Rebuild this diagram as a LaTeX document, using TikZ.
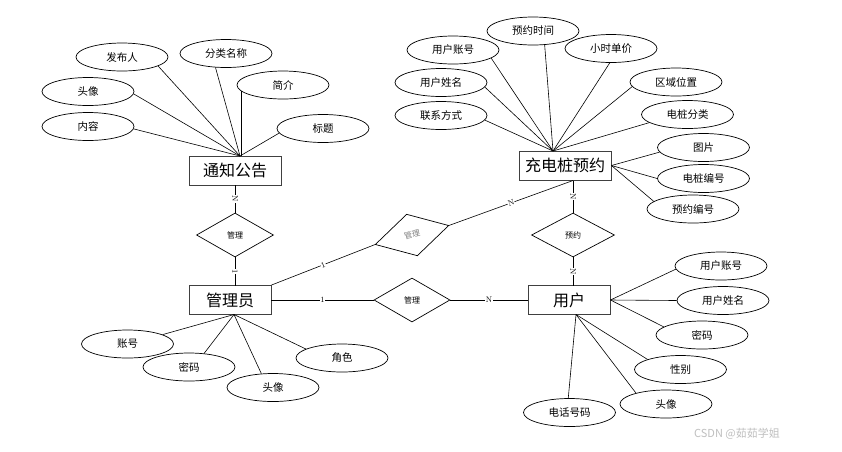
\documentclass[tikz,border=0pt]{standalone}
\usepackage{fontspec}
\newfontfamily\cjk{Noto Sans CJK SC}
\usetikzlibrary{shapes.geometric}
\begin{document}
\begin{tikzpicture}[x=1pt,y=-1pt,
  attr/.style={ellipse,draw,line width=0.7pt,minimum width=92pt,minimum height=28pt,inner sep=0pt,font=\cjk\fontsize{10.5}{12}\selectfont},
  ent/.style={rectangle,draw=black!75,line width=0.9pt,minimum width=92pt,minimum height=29pt,inner sep=0pt,font=\cjk\fontsize{16}{18}\selectfont},
  rel/.style={diamond,draw,line width=0.7pt,minimum width=77pt,minimum height=44pt,inner sep=0pt,font=\cjk\fontsize{8}{9}\selectfont},
  lnk/.style={line width=0.6pt},
  card/.style={font=\fontsize{8}{8}\selectfont,fill=white,inner sep=0.4pt,sloped}
]
\useasboundingbox[fill=white] (0,0) rectangle (842,451);

% entities
\node[ent] (tzgg) at (235,170.5) {通知公告};
\node[ent] (cdz) at (565,165.5) {充电桩预约};
\node[ent,minimum width=82pt] (gly) at (230,300) {管理员};
\node[ent,minimum width=82pt] (yh) at (569,300) {用户};

% relationships
\node[rel] (r1) at (235,235) {管理};
\node[rel,minimum width=83pt] (r2) at (573,235) {预约};
\node[rel,minimum width=76pt] (r3) at (412,300) {管理};
\node[rel,rotate=14.5,minimum width=76pt,minimum height=43pt,text=gray] (r4) at (412,235) {管理};

\coordinate (glytop) at (235,285.5);
\coordinate (cdzb) at (573,180.5);
\coordinate (yhtop) at (573,285.5);

\draw[lnk] (tzgg.south) -- node[card]{N} (r1.north);
\draw[lnk] (r1.south) -- node[card]{1} (glytop);
\draw[lnk] (cdzb) -- node[card]{N} (r2.north);
\draw[lnk] (r2.south) -- node[card]{N} (yhtop);
\draw[lnk] (gly.east) -- node[card]{1} (r3.west);
\draw[lnk] (r3.east) -- node[card]{N} (yh.west);
\draw[lnk] (gly.north east) -- node[card]{1} (r4.west);
\draw[lnk] (r4.east) -- node[card]{N} (cdzb);

% attributes of 通知公告
\node[attr] (a1) at (122,57) {发布人};
\node[attr] (a2) at (226,53.5) {分类名称};
\node[attr] (a3) at (88,91.5) {头像};
\node[attr] (a4) at (283,85) {简介};
\node[attr] (a5) at (88,126.5) {内容};
\node[attr] (a6) at (323,128.5) {标题};
\coordinate (tzhub) at (240,156);
\draw[lnk] (a1.346) -- (tzhub);
\draw[lnk] (a2.233) -- (tzhub);
\draw[lnk] (a3.357) -- (tzhub);
\draw[lnk] (a5.357) -- (tzhub);
\draw[lnk] (a6.186) -- (tzhub);
\draw[lnk] (a4.188) -- (a4.188 |- tzhub);

% attributes of 充电桩预约
\node[attr] (b1) at (453,50) {用户账号};
\node[attr] (b2) at (533,31) {预约时间};
\node[attr] (b3) at (611,48.5) {小时单价};
\node[attr] (b4) at (676,82) {区域位置};
\node[attr] (b5) at (687.5,114.5) {电桩分类};
\node[attr] (b6) at (441,82.5) {用户姓名};
\node[attr] (b7) at (441,115.5) {联系方式};
\node[attr] (b8) at (703.5,147.5) {图片};
\node[attr] (b9) at (703.5,178.5) {电桩编号};
\node[attr] (b10) at (693,209) {预约编号};
\coordinate (cdzhub) at (553,151);
\draw[lnk] (b1.348) -- (cdzhub);
\draw[lnk] (b2.310) -- (cdzhub);
\draw[lnk] (b3.265) -- (cdzhub);
\draw[lnk] (b4.186) -- (cdzhub);
\draw[lnk] (b5.192) -- (cdzhub);
\draw[lnk] (b6.354) -- (cdzhub);
\draw[lnk] (b7.354) -- (cdzhub);
\draw[lnk] (b8.186) -- (cdz.east);
\draw[lnk] (b9.180) -- (cdz.east);
\draw[lnk] (b10.169) -- (cdz.east);

% attributes of 管理员
\node[attr] (c1) at (127.5,344) {账号};
\node[attr] (c2) at (189,367) {密码};
\node[attr] (c3) at (273,387.5) {头像};
\node[attr] (c4) at (342,358) {角色};
\coordinate (glyhub) at (234,314.5);
\draw[lnk] (c1.15) -- (glyhub);
\draw[lnk] (c2.42) -- (glyhub);
\draw[lnk] (c3.130) -- (glyhub);
\draw[lnk] (c4.166) -- (glyhub);

% attributes of 用户
\node[attr] (d1) at (721,266) {用户账号};
\node[attr] (d2) at (723,300.5) {用户姓名};
\node[attr] (d3) at (702,335) {密码};
\node[attr] (d4) at (680.5,369.5) {性别};
\node[attr] (d5) at (666,404) {头像};
\node[attr] (d6) at (569.5,412.5) {电话号码};
\coordinate (yhb) at (576,314.5);
\draw[lnk] (d1.184) -- (yh.east);
\draw[lnk] (d2.180) -- (yh.east);
\draw[lnk] (d3.168) -- (yh.east);
\draw[lnk] (d4.163) -- (yhb);
\draw[lnk] (d5.160) -- (yhb);
\draw[lnk] (d6.95) -- (yhb);

% watermark
\node[font=\cjk\fontsize{11}{12}\selectfont,text=black!25] (wm) at (737,434) {CSDN @茹茹学姐};
\end{tikzpicture}
\end{document}
